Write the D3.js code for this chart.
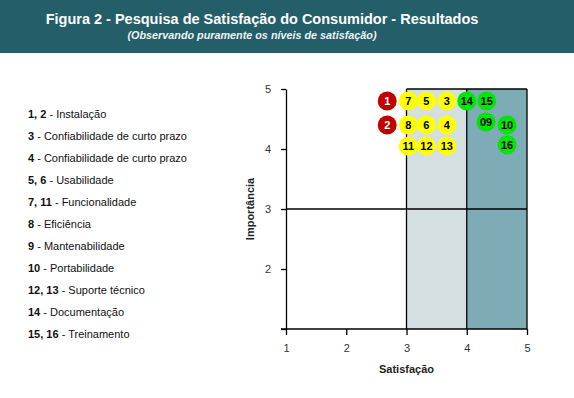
<!DOCTYPE html>
<html>
<head>
<meta charset="utf-8">
<script src="https://cdn.jsdelivr.net/npm/d3@7"></script>
<style>
  body { margin: 0; background: #fff; }
  svg { display: block; font-family: "Liberation Sans", Arial, sans-serif; }
</style>
</head>
<body>
<div id="chart"></div>
<script>
// point labels, satisfaction (x) and importance (y)
const pointLabels = ["1", "7", "5", "3", "14", "15", "2", "8", "6", "4", "09", "10", "11", "12", "13", "16"];
const satisfacao  = [2.68, 3.03, 3.33, 3.67, 4.0, 4.33, 2.68, 3.03, 3.33, 3.67, 4.32, 4.67, 3.03, 3.33, 3.67, 4.67];
const importancia = [4.8, 4.8, 4.8, 4.8, 4.8, 4.8, 4.4, 4.4, 4.4, 4.4, 4.45, 4.4, 4.05, 4.05, 4.05, 4.07];
const pointGroup  = ["bad", "mid", "mid", "mid", "good", "good", "bad", "mid", "mid", "mid", "good", "good", "mid", "mid", "mid", "good"];

const legendNums  = ["1, 2", "3", "4", "5, 6", "7, 11", "8", "9", "10", "12, 13", "14", "15, 16"];
const legendNames = ["Instalação", "Confiabilidade de curto prazo", "Confiabilidade de curto prazo",
  "Usabilidade", "Funcionalidade", "Eficiência", "Mantenabilidade", "Portabilidade",
  "Suporte técnico", "Documentação", "Treinamento"];

const xTicks = [1, 2, 3, 4, 5];
const yTicks = [2, 3, 4, 5];

const W = 574, H = 398;
const svg = d3.select("#chart").append("svg").attr("width", W).attr("height", H);

// Header band
svg.append("rect").attr("x", 0).attr("y", 0).attr("width", W).attr("height", 53).attr("fill", "#235e69");
svg.append("text")
  .attr("x", 262).attr("y", 24)
  .attr("text-anchor", "middle")
  .attr("fill", "#fff")
  .style("font-size", "14.5px").style("font-weight", "bold")
  .text("Figura 2 - Pesquisa de Satisfação do Consumidor - Resultados");
svg.append("text")
  .attr("x", 252).attr("y", 39)
  .attr("text-anchor", "middle")
  .attr("fill", "#eef2f2")
  .style("font-size", "10.8px").style("font-weight", "bold").style("font-style", "italic")
  .text("(Observando puramente os níveis de satisfação)");

// Legend
const legend = svg.append("g").attr("transform", "translate(28,0)");
legendNums.forEach((n, i) => {
  const t = legend.append("text")
    .attr("x", 0).attr("y", 118 + i * 22)
    .attr("fill", "#111")
    .style("font-size", "11px");
  t.append("tspan").style("font-weight", "bold").text(n);
  t.append("tspan").text(" - " + legendNames[i]);
});

// Scales
const x = d3.scaleLinear().domain([1, 5]).range([286, 527]);
const y = d3.scaleLinear().domain([1, 5]).range([329, 89]);

// Shaded zones
svg.append("rect")
  .attr("x", x(3)).attr("y", y(5)).attr("width", x(4) - x(3)).attr("height", y(1) - y(5))
  .attr("fill", "#d3dfe1");
svg.append("rect")
  .attr("x", x(4)).attr("y", y(5)).attr("width", x(5) - x(4)).attr("height", y(1) - y(5))
  .attr("fill", "#7dacb6");

// Grid/border lines
const lines = svg.append("g").attr("stroke", "#000").attr("stroke-width", 1.3);
[3, 4, 5].forEach(v => {
  lines.append("line").attr("x1", x(v)).attr("x2", x(v)).attr("y1", y(5)).attr("y2", y(1));
});
lines.append("line").attr("x1", x(3)).attr("x2", x(5)).attr("y1", y(5)).attr("y2", y(5));
lines.append("line").attr("x1", x(1)).attr("x2", x(5)).attr("y1", y(3)).attr("y2", y(3));

// Axes
const xAxis = svg.append("g")
  .attr("transform", `translate(0,${y(1)})`)
  .call(d3.axisBottom(x).tickValues(xTicks).tickSize(6).tickPadding(9).tickSizeOuter(0)
    .tickFormat(d3.format("d")));
const yAxis = svg.append("g")
  .attr("transform", `translate(${x(1)},0)`)
  .call(d3.axisLeft(y).tickValues([1].concat(yTicks)).tickSize(5).tickPadding(10).tickSizeOuter(0)
    .tickFormat(d => d === 1 ? "" : d));
[xAxis, yAxis].forEach(a => {
  a.select(".domain").attr("stroke", "#000").attr("stroke-width", 1.3);
  a.selectAll(".tick line").attr("stroke", "#000").attr("stroke-width", 1.3);
  a.selectAll("text").attr("fill", "#333").style("font-size", "11px")
    .style("font-family", "'Liberation Sans', Arial, sans-serif");
});
xAxis.select(".domain").attr("d", `M${x(5)},0H${x(1) - 5}`);

svg.append("text")
  .attr("x", x(3)).attr("y", 373)
  .attr("text-anchor", "middle")
  .attr("fill", "#222")
  .style("font-size", "11px").style("font-weight", "bold")
  .text("Satisfação");
svg.append("text")
  .attr("transform", `translate(254,${y(3)}) rotate(-90)`)
  .attr("text-anchor", "middle")
  .attr("fill", "#222")
  .style("font-size", "11px").style("font-weight", "bold")
  .text("Importância");

// Points
const fillColor = { bad: "#c00000", mid: "#ffff00", good: "#00e600" };
const textColor = { bad: "#fff", mid: "#000", good: "#000" };
const pts = svg.append("g").selectAll("g")
  .data(pointLabels.map((l, i) => ({ l, sx: satisfacao[i], iy: importancia[i], g: pointGroup[i] })))
  .enter().append("g")
  .attr("transform", d => `translate(${x(d.sx)},${y(d.iy)})`);
pts.append("circle").attr("r", 9.5).attr("fill", d => fillColor[d.g]);
pts.append("text")
  .attr("text-anchor", "middle").attr("dy", "0.36em")
  .attr("fill", d => textColor[d.g])
  .style("font-size", "11px").style("font-weight", "bold")
  .text(d => d.l);
</script>
</body>
</html>
